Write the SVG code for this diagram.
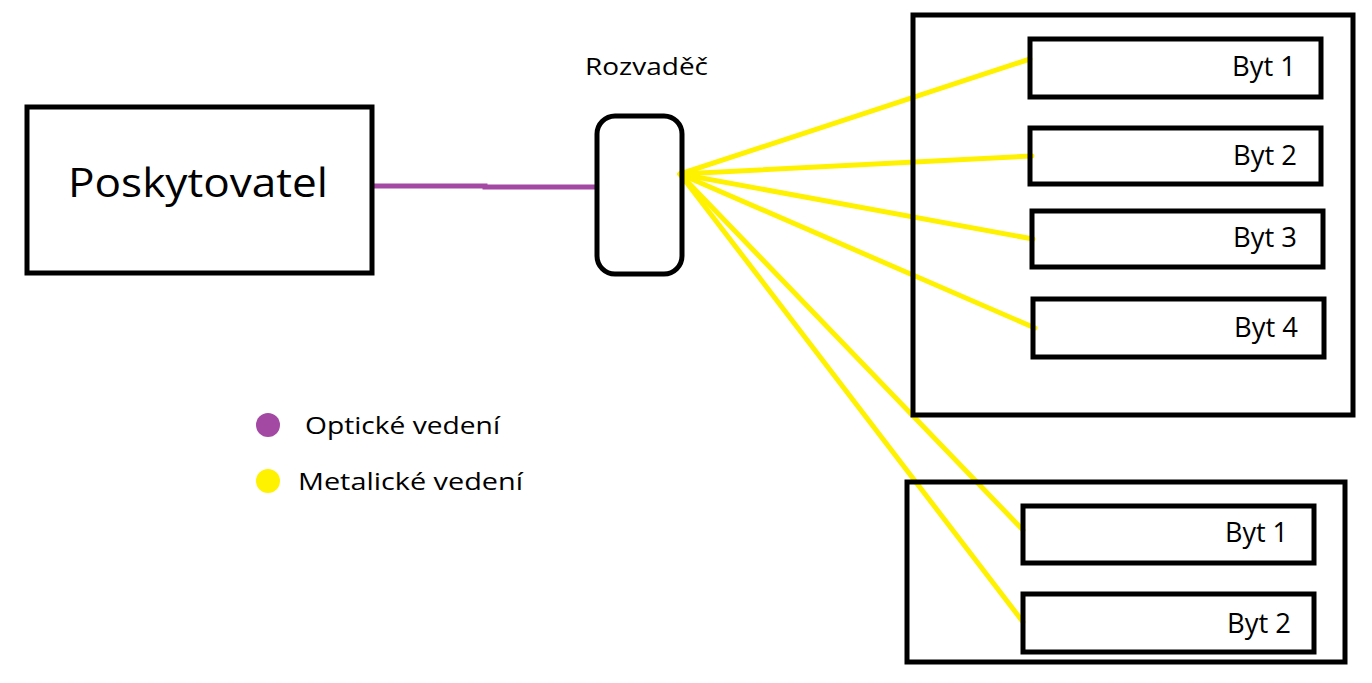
<svg xmlns="http://www.w3.org/2000/svg" width="1372" height="683" viewBox="0 0 1372 683">
<style>
.box{fill:none;stroke:#000;stroke-width:5}
.t{font-family:"Open Sans","Noto Sans","Liberation Sans",sans-serif;fill:#000}
.yl{stroke:#fff200;stroke-width:5;stroke-linecap:round;fill:none}
.pl{stroke:#a349a4;stroke-width:5;fill:none}
</style>
<rect width="1372" height="683" fill="#fff"/>
<g id="connectors">
<path class="pl" d="M372 186H485V187H598"/>
<line class="yl" x1="680" y1="174" x2="1030" y2="59"/>
<line class="yl" x1="680" y1="174" x2="1032" y2="156"/>
<line class="yl" x1="680" y1="174" x2="1033" y2="239"/>
<line class="yl" x1="680" y1="174" x2="1035" y2="328"/>
<line class="yl" x1="680" y1="174" x2="1023" y2="530"/>
<line class="yl" x1="680" y1="174" x2="1023" y2="622"/>
</g>
<g id="poskytovatel">
<rect class="box" x="27" y="107" width="345" height="166"/>
<text class="t" x="68" y="197" font-size="40" textLength="260" lengthAdjust="spacingAndGlyphs">Poskytovatel</text>
</g>
<g id="rozvadec">
<rect class="box" x="597" y="116" width="85" height="158" rx="18"/>
<text class="t" x="585" y="75" font-size="24" textLength="123" lengthAdjust="spacingAndGlyphs">Rozvaděč</text>
</g>
<g id="dum1">
<rect class="box" x="913" y="15" width="440" height="400"/>
</g>
<g id="dum1-byt1">
<rect class="box" x="1030" y="39" width="291" height="58"/>
<text class="t" x="1232" y="76" font-size="28" textLength="64" lengthAdjust="spacingAndGlyphs">Byt 1</text>
</g>
<g id="dum1-byt2">
<rect class="box" x="1030" y="128" width="291" height="56"/>
<text class="t" x="1233" y="165" font-size="28" textLength="64" lengthAdjust="spacingAndGlyphs">Byt 2</text>
</g>
<g id="dum1-byt3">
<rect class="box" x="1032" y="211" width="291" height="56"/>
<text class="t" x="1233" y="247" font-size="28" textLength="64" lengthAdjust="spacingAndGlyphs">Byt 3</text>
</g>
<g id="dum1-byt4">
<rect class="box" x="1033" y="299" width="291" height="58"/>
<text class="t" x="1234" y="337" font-size="28" textLength="64" lengthAdjust="spacingAndGlyphs">Byt 4</text>
</g>
<g id="dum2">
<rect class="box" x="907" y="482" width="438" height="180"/>
</g>
<g id="dum2-byt1">
<rect class="box" x="1023" y="506" width="291" height="57"/>
<text class="t" x="1225" y="542" font-size="28" textLength="63" lengthAdjust="spacingAndGlyphs">Byt 1</text>
</g>
<g id="dum2-byt2">
<rect class="box" x="1023" y="594" width="291" height="58"/>
<text class="t" x="1227" y="633" font-size="28" textLength="64" lengthAdjust="spacingAndGlyphs">Byt 2</text>
</g>
<g id="legend">
<circle cx="268" cy="425" r="12" fill="#a349a4"/>
<text class="t" x="305" y="434" font-size="24" textLength="195" lengthAdjust="spacingAndGlyphs">Optické vedení</text>
<circle cx="268" cy="481" r="12" fill="#fff200"/>
<text class="t" x="298" y="490" font-size="24" textLength="225" lengthAdjust="spacingAndGlyphs">Metalické vedení</text>
</g>
</svg>
